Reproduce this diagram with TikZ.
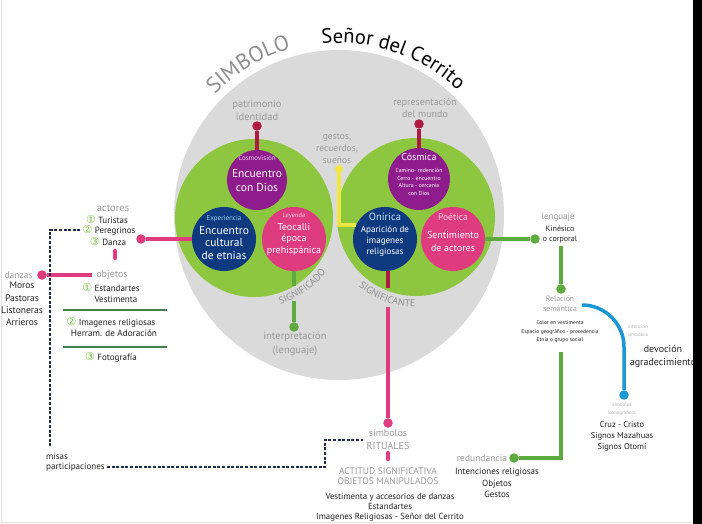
\documentclass[tikz,border=0pt]{standalone}
\usepackage{fontspec}
\setmainfont{PT Sans}
\newfontfamily\djv{DejaVu Sans}
\usetikzlibrary{decorations.text}
\definecolor{grayc}{HTML}{DADADA}
\definecolor{limeg}{HTML}{8DC63F}
\definecolor{purp}{HTML}{8E1C8C}
\definecolor{navyb}{HTML}{0F3A80}
\definecolor{pinkc}{HTML}{DF3B7F}
\definecolor{crim}{HTML}{B11A40}
\definecolor{lineg}{HTML}{5DAA3F}
\definecolor{sepg}{HTML}{3F7F52}
\definecolor{cyanb}{HTML}{1A98D5}
\definecolor{yel}{HTML}{F2E640}
\definecolor{txtgray}{HTML}{999999}
\definecolor{lgray}{HTML}{B3B3B3}
\definecolor{simgray}{HTML}{8F8F8F}
\definecolor{dashnavy}{HTML}{232B4B}
\definecolor{numg}{HTML}{7DBF45}
\definecolor{txtdark}{HTML}{222222}
\newcommand\myfs[2]{\fontsize{#1}{#2}\selectfont}
\newcommand\cn[1]{{\djv\color{numg}\fontsize{11}{10}\selectfont #1}}
\begin{document}
\begin{tikzpicture}[x=1pt,y=1pt,
  lbl/.style={inner sep=0pt, align=center, text=txtgray},
  tiny/.style={inner sep=0pt, align=center, text=lgray},
  dk/.style={inner sep=0pt, align=center, text=txtdark},
  wt/.style={inner sep=0pt, align=center, text=white},
  bigc/.style={circle, inner sep=0pt, minimum size=#1},
  dotc/.style={circle, fill=#1, inner sep=0pt, minimum size=9.5pt},
  conn/.style={line width=3.5pt},
  dsh/.style={line width=2.4pt, draw=dashnavy, dash pattern=on 3pt off 1.6pt},
  barr/.style={line width=4.5pt, draw=pinkc, line cap=round},
  sepl/.style={line width=1.8pt, draw=sepg},
]
\fill[white] (0,0) rectangle (702,-524);
\useasboundingbox (0,0) rectangle (702,-524);
% frame
\draw[gray!25, line width=0.8pt] (1,0) -- (1,-522) -- (693,-522);
\fill[black] (693,0) rectangle (702,-524);

% big gray circle
\fill[grayc] (339,-215) circle[radius=165];

% titles along arcs
\path[decorate, decoration={text along path, text={|\myfs{20.5}{24}|Señor del Cerrito}, text align=center, text color=black}]
  (339,-215) ++(95:172) arc[start angle=95, end angle=47, radius=172];
\path[decorate, decoration={text along path, text={|\myfs{22}{24}|SIMBOLO}, text align=center, text color=simgray}]
  (339,-215) ++(141:173) arc[start angle=141, end angle=101, radius=173];

% green circles
\node[bigc=158pt, fill=limeg] (lg) at (254,-218) {};
\node[bigc=158pt, fill=limeg] (rg) at (416,-217) {};

% inner circles
\node[bigc=60pt, fill=purp] (cosmo) at (257,-180) {};
\node[bigc=64pt, fill=navyb] (exper) at (224,-239) {};
\node[bigc=64pt, fill=pinkc] (leyenda) at (294,-239) {};
\node[bigc=62pt, fill=purp] (cosmica) at (419,-179) {};
\node[bigc=64pt, fill=navyb] (onirica) at (385,-239) {};
\node[bigc=64pt, fill=pinkc] (poetica) at (453,-239) {};

% inner texts
\node[wt, text=purp!20!white, font=\myfs{7}{8}] (tcosmo) at (257,-158) {Cosmovisión};
\node[wt, font=\myfs{11.5}{14}] (tcosmob) at (257,-181) {Encuentro\\con Dios};
\node[wt, text=cyanb!45!white, font=\myfs{7}{8}] (texper) at (224,-219) {Experiencia};
\node[wt, font=\myfs{11.5}{12.5}] (texperb) at (224,-243) {Encuentro\\cultural\\de etnias};
\node[wt, text=pinkc!25!white, font=\myfs{6.5}{8}] (tley) at (294,-216) {Leyenda};
\node[wt, font=\myfs{10}{11.5}] (tleyb) at (294,-239) {Teocalli\\época\\prehispánica};
\node[wt, font=\myfs{10}{12}] (tcosmica) at (419,-157) {Cósmica};
\node[wt, font=\myfs{5.8}{7.7}] (tcosmicab) at (419,-182) {Camino- redención\\Cerro - encuentro\\Altura - cercanía\\con Dios};
\node[wt, text=cyanb!25!white, font=\myfs{10.5}{12}] (tonir) at (385,-217) {Onírica};
\node[wt, font=\myfs{9}{11}] (tonirb) at (385,-241) {Aparición de\\imagenes\\religiosas};
\node[wt, text=pinkc!20!white, font=\myfs{9.5}{12}] (tpoet) at (453,-217) {Poética};
\node[wt, font=\myfs{10}{12.5}] (tpoetb) at (453,-241.5) {Sentimiento\\de actores};

% arc labels
\path[decorate, decoration={text along path, text={|\myfs{10}{10}|SIGNIFICADO}, text align=center, text color=simgray}]
  (254,-218) ++(-77:90) arc[start angle=-77, end angle=-33, radius=90];
\path[decorate, decoration={text along path, text={|\myfs{10}{10}|SIGNIFICANTE}, text align=center, text color=simgray}]
  (416,-217) ++(-135:90) arc[start angle=-135, end angle=-85, radius=90];

% top labels and connectors
\node[lbl, font=\myfs{10.5}{13}] (patr) at (257,-110) {patrimonio\\identidad};
\node[dotc=crim] (pdot) at (257,-126) {};
\draw[conn, crim] (pdot) -- (cosmo.north);
\node[lbl, font=\myfs{10}{12}] (repr) at (425,-108) {representación\\del mundo};
\node[dotc=crim] (rdot) at (419,-124) {};
\draw[conn, crim] (rdot) -- (cosmica.north);
\node[lbl, font=\myfs{9.5}{12}] (gest) at (337,-149) {gestos,\\recuerdos,\\sueños};
\node[dotc=yel, minimum size=8pt] (ydot) at (339,-169) {};
\draw[conn, yel] (ydot) |- (onirica.154);

% significado connector
\node[dotc=lineg] (idot) at (294,-327) {};
\coordinate (sg1) at (294,-286);
\coordinate (sg2) at (294,-301);
\draw[conn, lineg] (leyenda.south) -- (sg1);
\draw[conn, lineg] (sg2) -- (idot);
\node[lbl, font=\myfs{10.5}{13.5}] (interp) at (295,-344) {interpretación\\(lenguaje)};

% significante connector
\node[dotc=pinkc] (sdot) at (388,-423) {};
\coordinate (sn1) at (388,-288);
\coordinate (sn2) at (388,-307);
\draw[conn, crim] (onirica.south -| sdot) -- (sn1);
\draw[conn, pinkc] (sn2) -- (sdot);

% left side
\node[dotc=pinkc] (adot) at (141,-239) {};
\draw[conn, pinkc] (adot) -- (exper.west);
\node[lbl, font=\myfs{10.5}{10}] (actores) at (113,-208) {actores};
\node[dk, font=\myfs{9}{10}] (turistas) at (107,-219) {\cn{①} Turistas};
\node[dk, font=\myfs{9}{10}] (pereg) at (109,-230) {\cn{②} Peregrinos};
\node[dk, font=\myfs{9}{10}] (danza) at (108,-241) {\cn{③} Danza};
\coordinate (bar1) at (115,-251);
\coordinate (bar2) at (115,-258);
\draw[barr] (bar1) -- (bar2);
\node[lbl, font=\myfs{10}{10}] (objetos) at (112,-275) {objetos};
\node[lbl, font=\myfs{9.5}{10}] (danzas) at (18.5,-275) {danzas};
\node[dotc=pinkc] (ddot) at (42,-275) {};
\draw[conn, pinkc] (ddot) -- ([xshift=-4pt]objetos.west);
\node[dk, font=\myfs{9.5}{12.2}] (moros) at (22,-304) {Moros\\Pastoras\\Listoneras\\Arrieros};
\node[dk, font=\myfs{9}{10}] (estand) at (111,-287) {\cn{①} Estandartes};
\node[dk, font=\myfs{9}{10}] (vest) at (116,-299) {Vestimenta};
\draw[sepl] (63,-310) -- (167,-310);
\node[dk, font=\myfs{9}{10}] (imag) at (111,-322) {\cn{②} Imagenes religiosas};
\node[dk, font=\myfs{9.2}{10}] (herr) at (114,-333) {Herram. de Adoración};
\draw[sepl] (63,-347) -- (167,-347);
\node[dk, font=\myfs{9}{10}] (foto) at (111,-357) {\cn{③} Fotografía};

% dashed line
\node[dk, anchor=west, font=\myfs{9}{10}] (misas) at (46,-456) {misas};
\node[dk, anchor=west, font=\myfs{9}{10}] (partic) at (46,-467) {participaciones};
\coordinate (dB) at (50,-448);
\draw[dsh] ([xshift=-2pt]pereg.west) -| (dB);
\coordinate (dC) at (325,-440);
\coordinate (dE) at (363,-440);
\draw[dsh] ([xshift=2pt]partic.east) -| (dC) -- (dE);

% bottom centre
\node[lbl, font=\myfs{10}{13}] (simb) at (388,-439.5) {símbolos\\RITUALES};
\coordinate (bar3) at (388,-453);
\coordinate (bar4) at (388,-459);
\draw[barr] (bar3) -- (bar4);
\node[lbl, font=\myfs{9.5}{10.5}] (actitud) at (388,-476) {ACTITUD SIGNIFICATIVA\\OBJETOS MANIPULADOS};
\node[dk, font=\myfs{8.8}{10}] (vestb) at (390,-507) {Vestimenta y accesorios de danzas\\Estandartes\\Imagenes Religiosas - Señor del Cerrito};

% right side
\node[dotc=lineg] (kdot) at (535,-239) {};
\draw[conn, lineg] (poetica.east) -- (kdot);
\node[lbl, font=\myfs{9}{10}] (leng) at (558,-217) {lenguaje};
\node[dk, font=\myfs{8}{10}] (kin) at (560,-234) {Kinésico\\o corporal};
\node[dotc=lineg] (rsdot) at (561,-289) {};
\draw[conn, lineg] (kin.south -| rsdot) ++(0,-3) -- (rsdot);
\node[lbl, font=\myfs{7.8}{10}] (relac) at (560,-304) {Relación\\semántica};
\node[dk, font=\myfs{5.5}{8.5}] (color) at (560,-332) {Color en vestimenta\\Espacio geográfico - procedencia\\Etnia o grupo social};
\node[dotc=lineg] (redot) at (514,-458) {};
\coordinate (gc1) at (561,-352);
\draw[conn, lineg] (gc1) |- (redot);
\node[lbl, font=\myfs{9.5}{10}] (redun) at (482,-458) {redundancia};
\node[dk, font=\myfs{9}{11.5}] (intenc) at (497,-483) {Intenciones religiosas\\Objetos\\Gestos};

\coordinate (bst) at (582,-305);
\node[dotc=cyanb] (cdot) at (624,-395) {};
\draw[line width=3.5pt, cyanb] (bst) arc[start angle=90, end angle=0, radius=42] -- (cdot);
\node[tiny, font=\myfs{5}{8}] (intsim) at (638,-331) {intención\\simbólica};
\node[dk, font=\myfs{10}{13}] (devo) at (663,-356.5) {devoción\\agradecimiento};
\node[tiny, font=\myfs{5}{8}] (simico) at (622,-409) {símbolos\\iconográficos};
\node[dk, font=\myfs{8.5}{11}] (cruz) at (622,-436) {Cruz - Cristo\\Signos Mazahuas\\Signos Otomí};

% black strip on top of overflow
\fill[black] (693,0) rectangle (702,-524);
\end{tikzpicture}
\end{document}
